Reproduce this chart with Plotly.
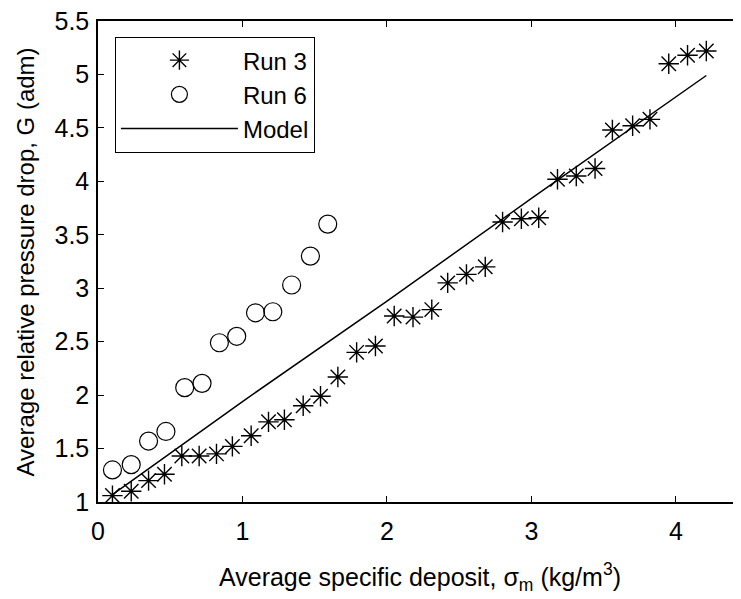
import plotly.graph_objects as go

# Run 3 (stars)
run3_x = [0.10, 0.23, 0.35, 0.46, 0.58, 0.70, 0.82, 0.93, 1.06, 1.18, 1.29, 1.42, 1.54, 1.66,
          1.79, 1.92, 2.05, 2.18, 2.31, 2.42, 2.55, 2.68, 2.80, 2.93, 3.05, 3.18, 3.31, 3.44,
          3.56, 3.70, 3.82, 3.95, 4.08, 4.21]
run3_y = [1.06, 1.10, 1.20, 1.26, 1.43, 1.43, 1.45, 1.52, 1.62, 1.75, 1.77, 1.90, 1.99, 2.17,
          2.40, 2.46, 2.74, 2.73, 2.80, 3.05, 3.13, 3.20, 3.62, 3.65, 3.66, 4.02, 4.05, 4.12,
          4.48, 4.52, 4.58, 5.10, 5.18, 5.22]

# Run 6 (circles)
run6_x = [0.10, 0.23, 0.35, 0.47, 0.60, 0.72, 0.84, 0.96, 1.09, 1.21, 1.34, 1.47, 1.59]
run6_y = [1.30, 1.35, 1.57, 1.66, 2.07, 2.11, 2.49, 2.55, 2.77, 2.78, 3.03, 3.30, 3.60]

# Model line
model_x = [0.10, 1.00, 2.00, 3.00, 4.21]
model_y = [1.07, 1.94, 2.88, 3.84, 4.99]

xticks = [0, 1, 2, 3, 4]
yticks = [1, 1.5, 2, 2.5, 3, 3.5, 4, 4.5, 5, 5.5]
ytick_labels = ["1", "1.5", "2", "2.5", "3", "3.5", "4", "4.5", "5", "5.5"]

font = "Liberation Sans, Arial, sans-serif"

fig = go.Figure()
fig.add_trace(go.Scatter(x=run3_x, y=run3_y, mode="markers", name="Run 3",
                         marker=dict(symbol="asterisk-open", size=17, color="black",
                                     line=dict(color="black", width=1.4))))
fig.add_trace(go.Scatter(x=run6_x, y=run6_y, mode="markers", name="Run 6",
                         marker=dict(symbol="circle-open", size=18, color="black",
                                     line=dict(color="black", width=1.2))))
fig.add_trace(go.Scatter(x=model_x, y=model_y, mode="lines", name="Model",
                         line=dict(color="black", width=1.5)))

axis_style = dict(showgrid=False, zeroline=False, showline=True, linecolor="black",
                  linewidth=1.5, mirror="ticks", ticks="inside", ticklen=6,
                  tickcolor="black", automargin=False, ticklabeloverflow="allow",
                  tickfont=dict(family=font, size=25, color="black"))

# the page puts the figure 8px in from the top-left corner
fig.update_layout(
    width=733, height=591,
    margin=dict(l=90, r=0, t=13, b=97),
    plot_bgcolor="white", paper_bgcolor="white",
    font=dict(family=font, size=25, color="black"),
    xaxis=dict(range=[0, 4.45], tickvals=xticks, ticklabelstandoff=6, **axis_style),
    yaxis=dict(range=[1, 5.5], tickvals=yticks, ticktext=ytick_labels,
               ticklabelstandoff=2, **axis_style),
    legend=dict(x=0.026, y=0.967, xanchor="left", yanchor="top",
                bordercolor="black", borderwidth=1.2, bgcolor="white",
                itemwidth=117, font=dict(family=font, size=24)),
    showlegend=True,
    annotations=[
        dict(text="Average specific deposit, σ<sub>m</sub> (kg/m<sup>3</sup>)",
             xref="paper", yref="paper", x=0.5, y=-0.115, xanchor="center", yanchor="top",
             showarrow=False, font=dict(family=font, size=25)),
        dict(text="Average relative pressure drop, G (adm)", textangle=-90,
             xref="paper", yref="paper", x=-0.112, y=0.5, xanchor="center", yanchor="middle",
             showarrow=False, font=dict(family=font, size=24)),
    ],
)

fig.write_html("out.html")
